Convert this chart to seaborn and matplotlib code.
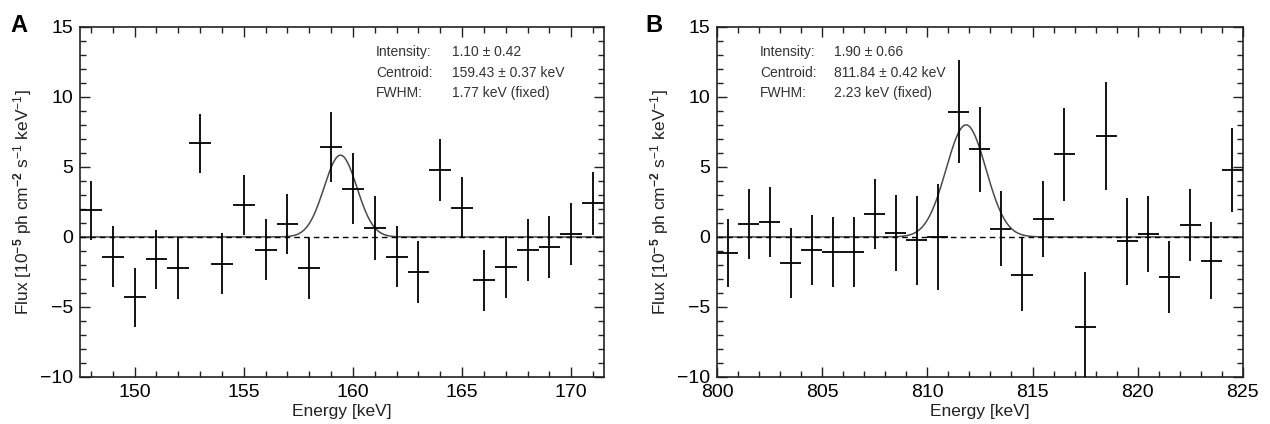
import numpy as np
import pandas as pd
import matplotlib
matplotlib.use("Agg")
import matplotlib.pyplot as plt
from matplotlib.ticker import MultipleLocator
import seaborn as sns

# ---------------- data ----------------
energy_a = [148, 149, 150, 151, 152, 153, 154, 155, 156, 157, 158, 159,
            160, 161, 162, 163, 164, 165, 166, 167, 168, 169, 170, 171]
flux_a = [1.9, -1.4, -4.3, -1.6, -2.2, 6.7, -1.9, 2.3, -0.9, 0.9, -2.25, 6.4,
          3.45, 0.65, -1.4, -2.5, 4.8, 2.1, -3.1, -2.15, -0.95, -0.7, 0.2, 2.4]
err_a = [2.1, 2.2, 2.1, 2.1, 2.2, 2.1, 2.15, 2.15, 2.15, 2.15, 2.2, 2.5,
         2.55, 2.3, 2.2, 2.2, 2.2, 2.15, 2.2, 2.2, 2.2, 2.2, 2.2, 2.25]

energy_b = [800.5, 801.5, 802.5, 803.5, 804.5, 805.5, 806.5, 807.5, 808.5,
            809.5, 810.5, 811.5, 812.5, 813.5, 814.5, 815.5, 816.5, 817.5,
            818.5, 819.5, 820.5, 821.5, 822.5, 823.5, 824.5]
flux_b = [-1.15, 0.9, 1.1, -1.85, -0.95, -1.05, -1.05, 1.65, 0.3, -0.25, 0.0,
          8.95, 6.25, 0.6, -2.7, 1.3, 5.9, -6.4, 7.2, -0.3, 0.2, -2.85, 0.85,
          -1.7, 4.75]
err_b = [2.45, 2.5, 2.5, 2.5, 2.5, 2.5, 2.5, 2.5, 2.7, 3.2, 3.8, 3.7, 3.05,
         2.65, 2.6, 2.7, 3.3, 3.9, 3.85, 3.1, 2.7, 2.55, 2.55, 2.75, 3.0]

bin_halfwidth = 0.5

# fit parameters (shown in the annotations)
fit_a = {"intensity": 1.10, "intensity_err": 0.42, "centroid": 159.43,
         "centroid_err": 0.37, "fwhm": 1.77}
fit_b = {"intensity": 1.90, "intensity_err": 0.66, "centroid": 811.84,
         "centroid_err": 0.42, "fwhm": 2.23}

xlim_a = (147.5, 171.5)
xlim_b = (800, 825)
ylim = (-10, 15)

# ---------------- style ----------------
sns.set_theme(style="ticks")
plt.rcParams["font.family"] = ["Liberation Sans", "DejaVu Sans"]
plt.rcParams["mathtext.fontset"] = "custom"
plt.rcParams["mathtext.rm"] = "Liberation Sans"
plt.rcParams["mathtext.it"] = "Liberation Sans:italic"
plt.rcParams["mathtext.bf"] = "Liberation Sans:bold"
plt.rcParams["text.color"] = "black"
plt.rcParams["axes.labelcolor"] = "#222222"
plt.rcParams["xtick.color"] = "#222222"
plt.rcParams["ytick.color"] = "#222222"
plt.rcParams["xtick.labelcolor"] = "black"
plt.rcParams["ytick.labelcolor"] = "black"

fig = plt.figure(figsize=(12.7, 4.24), dpi=100)
ax_a = fig.add_axes([0.063, 0.111, 0.4126, 0.8255])
ax_b = fig.add_axes([0.5646, 0.111, 0.414, 0.8255])


def model_curve(fit, xlim):
    x = np.linspace(xlim[0], xlim[1], 600)
    sigma = fit["fwhm"] / (2 * np.sqrt(2 * np.log(2)))
    amp = fit["intensity"] * 10 / (sigma * np.sqrt(2 * np.pi))  # 1e-4 -> 1e-5 units
    y = amp * np.exp(-0.5 * ((x - fit["centroid"]) / sigma) ** 2)
    return pd.DataFrame({"energy": x, "flux": y})


def draw_panel(ax, energy, flux, err, fit, xlim, text_x_frac, val_x_frac):
    df = pd.DataFrame({"energy": energy, "flux": flux, "err": err})
    curve = model_curve(fit, xlim)
    sns.lineplot(data=curve, x="energy", y="flux", ax=ax, color="#4a4a4a",
                 linewidth=1.1, zorder=2)
    ax.axhline(0, color="black", linestyle=(0, (4, 3)), linewidth=1.0, zorder=3)
    ax.errorbar(df["energy"], df["flux"], yerr=df["err"], xerr=bin_halfwidth,
                fmt="none", ecolor="black", elinewidth=1.3, capsize=0, zorder=4)
    ax.set_xlim(*xlim)
    ax.set_ylim(*ylim)
    ax.xaxis.set_major_locator(MultipleLocator(5))
    ax.xaxis.set_minor_locator(MultipleLocator(1))
    ax.yaxis.set_major_locator(MultipleLocator(5))
    ax.yaxis.set_minor_locator(MultipleLocator(1))
    ax.tick_params(which="both", direction="in", top=True, right=True, width=1.0)
    ax.tick_params(which="major", length=7, labelsize=14, pad=5)
    ax.tick_params(which="minor", length=4)
    for s in ax.spines.values():
        s.set_visible(True)
        s.set_linewidth(1.2)
        s.set_color("#222222")
    ax.set_yticks([-10, -5, 0, 5, 10, 15])
    ax.set_yticklabels(["\u221210", "\u22125", "0", "5", "10", "15"])
    ax.set_xlabel("Energy [keV]", fontsize=12.5, labelpad=2)
    ax.set_ylabel(r"Flux [10$^{\mathbf{-5}}$ ph cm$^{\mathbf{-2}}$ s$^{-1}$ keV$^{-1}$]",
                  fontsize=12.5, labelpad=4)
    labels = ["Intensity:", "Centroid:", "FWHM:"]
    values = [f"{fit['intensity']:.2f} \u00b1 {fit['intensity_err']:.2f}",
              f"{fit['centroid']:.2f} \u00b1 {fit['centroid_err']:.2f} keV",
              f"{fit['fwhm']:.2f} keV (fixed)"]
    for i, (lab, val) in enumerate(zip(labels, values)):
        yy = 0.928 - i * 0.059
        ax.text(text_x_frac, yy, lab, transform=ax.transAxes, fontsize=10,
                color="#333333", va="center", ha="left")
        ax.text(val_x_frac, yy, val, transform=ax.transAxes, fontsize=10,
                color="#333333", va="center", ha="left")


draw_panel(ax_a, energy_a, flux_a, err_a, fit_a, xlim_a, 0.565, 0.71)
draw_panel(ax_b, energy_b, flux_b, err_b, fit_b, xlim_b, 0.082, 0.222)

fig.text(0.008, 0.94, "A", fontsize=17, fontweight="bold", va="center", ha="left")
fig.text(0.508, 0.94, "B", fontsize=17, fontweight="bold", va="center", ha="left")

fig.savefig("out.png", dpi=100)
